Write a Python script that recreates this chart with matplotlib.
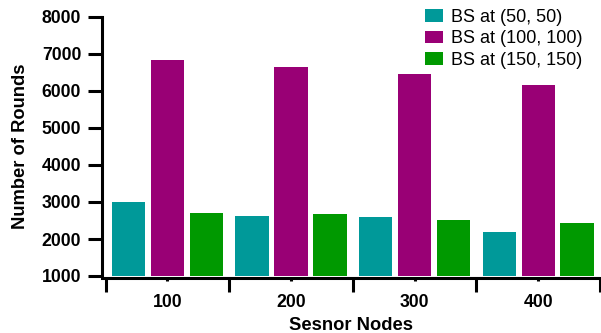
import matplotlib
matplotlib.use("Agg")
import matplotlib.pyplot as plt
import numpy as np

plt.rcParams['font.family'] = ['Liberation Sans', 'DejaVu Sans']

categories = ["100", "200", "300", "400"]
series_names = ["BS at (50, 50)", "BS at (100, 100)", "BS at (150, 150)"]
bs_50 = [2990, 2630, 2590, 2190]
bs_100 = [6850, 6650, 6470, 6170]
bs_150 = [2690, 2680, 2510, 2430]
colors = ["#009999", "#990075", "#009900"]
y_ticks = [1000, 2000, 3000, 4000, 5000, 6000, 7000, 8000]

fig = plt.figure(figsize=(6.01, 3.33), dpi=100)
ax = fig.add_axes([102/601, 1-276/333, 498/601, 259/333])

x = np.arange(len(categories))
pitch = 0.315
width = 0.27
for i, (vals, name, c) in enumerate(zip([bs_50, bs_100, bs_150], series_names, colors)):
    ax.bar(x + (i - 1) * pitch, np.array(vals) - 1000, width, bottom=1000, color=c, label=name)

ax.set_xlim(-0.53, 3.5)
ax.set_ylim(1000, 8000)
ax.set_yticks(y_ticks)
ax.set_yticklabels([str(t) for t in y_ticks])

ax.set_xticks(np.arange(len(categories) + 1) - 0.5)
ax.set_xticklabels([""] * (len(categories) + 1))
ax.set_xticks(x, minor=True)
ax.set_xticklabels(categories, minor=True)

ax.tick_params(axis='y', which='major', length=10, width=2.2, pad=5, labelsize=12.7)
ax.tick_params(axis='x', which='major', length=10, width=2.2)
ax.tick_params(axis='x', which='minor', length=2.5, width=2.2, pad=9, labelsize=12.7)

for s in ['top', 'right']:
    ax.spines[s].set_visible(False)
for s in ['left', 'bottom']:
    ax.spines[s].set_linewidth(2.2)
ax.spines['bottom'].set_position(('outward', 1.5))

ax.set_ylabel("Number of Rounds", fontsize=13.2, fontweight='bold', labelpad=9)
ax.set_xlabel("Sesnor Nodes", fontsize=13.2, fontweight='bold', labelpad=4)

leg = ax.legend(loc='upper right', bbox_to_anchor=(0.98, 1.06), frameon=False,
                fontsize=13, handlelength=1.0, handleheight=0.7, handletextpad=0.45,
                labelspacing=0.25, borderaxespad=0)

fig.canvas.draw()
for lab in ax.get_yticklabels() + ax.get_xticklabels(minor=True):
    lab.set_fontweight('bold')

fig.savefig("out.png", dpi=100)
